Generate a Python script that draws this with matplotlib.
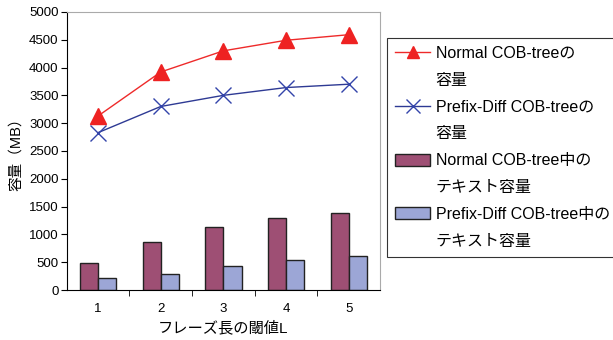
import numpy as np
import matplotlib
matplotlib.use('Agg')
import matplotlib.pyplot as plt
from matplotlib.ticker import FixedLocator
from matplotlib.lines import Line2D
from matplotlib.patches import Patch

plt.rcParams['font.family'] = ['Liberation Sans', 'Noto Sans CJK JP']

thresholds = [1, 2, 3, 4, 5]
normal_size = [3130, 3920, 4300, 4490, 4590]
prefix_size = [2830, 3300, 3500, 3640, 3700]
normal_text = [485, 872, 1130, 1300, 1390]
prefix_text = [218, 295, 427, 541, 608]

labels = [('Normal COB-treeの', '容量'),
          ('Prefix-Diff COB-treeの', '容量'),
          ('Normal COB-tree中の', 'テキスト容量'),
          ('Prefix-Diff COB-tree中の', 'テキスト容量')]

red, navy, xblue = '#ee2a2a', '#2e3a94', '#3344aa'
maroon, lilac = '#9e4f74', '#9ca6d6'

x = np.array(thresholds)

fig = plt.figure(figsize=(6.13, 3.4), dpi=100)
ax = fig.add_axes([0.109, 0.147, 0.511, 0.818])

w = 0.29
ax.bar(x - 0.145, normal_text, w, color=maroon, edgecolor='#222222', lw=1, zorder=2)
ax.bar(x + 0.145, prefix_text, w, color=lilac, edgecolor='#222222', lw=1, zorder=2)
ax.plot(x, normal_size, color=red, lw=1, marker='^', ms=11,
        mfc='#ee2222', mec='#ee2222', zorder=3)
ax.plot(x, prefix_size, color=navy, lw=1, marker='x', ms=12,
        mew=1, mec=xblue, zorder=3)

ax.set_xlim(0.5, 5.5)
ax.set_ylim(0, 5000)
ax.set_yticks(np.arange(0, 5001, 500))
ax.set_xticks(x)
ax.xaxis.set_minor_locator(FixedLocator([1.5, 2.5, 3.5, 4.5]))
ax.tick_params(axis='x', which='major', length=0, pad=9, labelsize=9.5)
ax.tick_params(axis='x', which='minor', length=4, direction='out')
ax.tick_params(axis='y', length=4, direction='out', labelsize=9.5, pad=2)

for s in ['top', 'right']:
    ax.spines[s].set_color('#aaaaaa')
for s in ['left', 'bottom']:
    ax.spines[s].set_color('black')

ax.set_xlabel('フレーズ長の閾値L', fontsize=11, labelpad=4)
ax.set_ylabel('容量（MB）', fontsize=10.5, labelpad=4)

# legend: each label takes two rows, handle on the first row only
blank = Line2D([], [], color='none')
proxies = [
    Line2D([], [], color=red, lw=1, marker='^', ms=9, mfc='#ee2222', mec='#ee2222'),
    Line2D([], [], color=navy, lw=1, marker='x', ms=10, mew=1, mec=xblue),
    Patch(facecolor=maroon, edgecolor='#222222', lw=1),
    Patch(facecolor=lilac, edgecolor='#222222', lw=1),
]
handles, texts = [], []
for h, (first, second) in zip(proxies, labels):
    handles += [h, blank]
    texts += [first, second]

leg = fig.legend(handles, texts, loc='upper left',
                 bbox_to_anchor=(387 / 613, 1 - 38 / 340), fontsize=11.5,
                 frameon=True, fancybox=False, edgecolor='black',
                 handlelength=2.2, handleheight=0.8, handletextpad=0.35,
                 labelspacing=0.74, borderpad=0.5, borderaxespad=0)
leg.get_frame().set_linewidth(0.8)

fig.savefig('out.png', dpi=100)
